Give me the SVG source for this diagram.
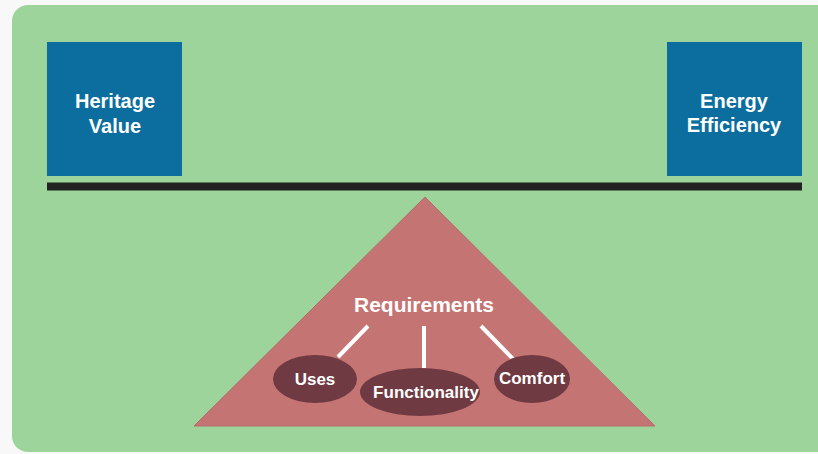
<svg xmlns="http://www.w3.org/2000/svg" width="818" height="454" viewBox="0 0 818 454">
<style>
.lbl{font-family:"Liberation Sans",Arial,sans-serif;font-weight:bold;fill:#ffffff;text-anchor:middle}
.big{font-size:20px}
.sm{font-size:17px}
.box{fill:#0b6e9f}
.ell{fill:#6f3a41}
.conn{stroke:#ffffff;stroke-width:4;fill:none}
</style>
<rect x="0" y="0" width="818" height="454" fill="#f7f8f7"/>
<rect x="12" y="5" width="840" height="447" rx="16" fill="#9dd49b"/>
<g id="heritage">
<rect class="box" x="47" y="42" width="135" height="134"/>
<text class="lbl big" x="115" y="108">Heritage</text>
<text class="lbl big" x="115" y="132.5">Value</text>
</g>
<g id="energy">
<rect class="box" x="667" y="42" width="135" height="134"/>
<text class="lbl big" x="734" y="108">Energy</text>
<text class="lbl big" x="734" y="132">Efficiency</text>
</g>
<g id="beam">
<rect x="47" y="182.5" width="755" height="8" fill="#232323"/>
</g>
<g id="fulcrum">
<polygon points="425,197 194,426 655,426" fill="#c57474" stroke="#b86a6a" stroke-width="1"/>
<text class="lbl big" x="424" y="312" textLength="140" lengthAdjust="spacingAndGlyphs">Requirements</text>
</g>
<g id="connectors">
<line class="conn" x1="368" y1="326" x2="338" y2="357"/>
<line class="conn" x1="424" y1="326" x2="424" y2="368"/>
<line class="conn" x1="481" y1="326" x2="513" y2="359"/>
</g>
<g id="uses">
<ellipse class="ell" cx="315" cy="379" rx="42" ry="24"/>
<text class="lbl sm" x="315" y="384.5">Uses</text>
</g>
<g id="functionality">
<ellipse class="ell" cx="420" cy="392" rx="60" ry="24"/>
<text class="lbl sm" x="426" y="398">Functionality</text>
</g>
<g id="comfort">
<ellipse class="ell" cx="532" cy="379" rx="38" ry="24"/>
<text class="lbl sm" x="532" y="384">Comfort</text>
</g>
</svg>
